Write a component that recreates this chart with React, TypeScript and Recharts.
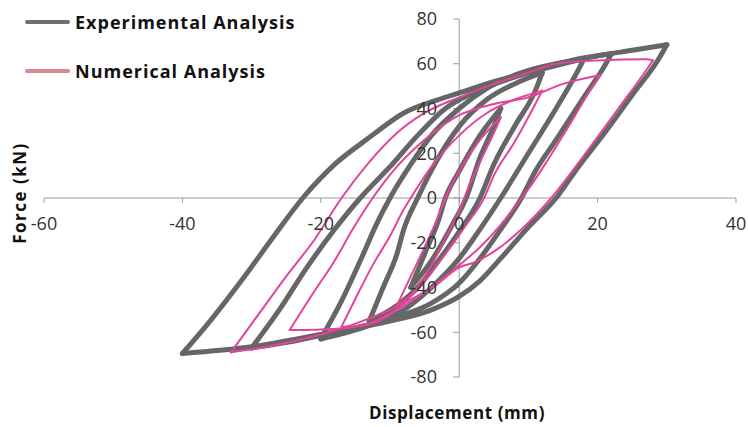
import React from 'react';
import { LineChart, Line, XAxis, YAxis, ReferenceLine, Legend } from 'recharts';

// Hysteresis loops, force (kN) against displacement (mm), one array per cycle.
// Each cycle runs from its negative tip up to its positive tip and back down.
type Pt = [number, number];

const expCycle1: Pt[] = [
  [-7, -40], [-5, -25], [-3, -10], [-2, 0], [0, 12], [3, 28], [6, 40],
  [5, 32], [3, 18], [1, 0], [-1, -12], [-4, -28], [-7, -40],
];
const expCycle2: Pt[] = [
  [-13, -55], [-11, -40], [-9, -25], [-8, -14], [-6, 0], [-3, 18], [0, 32], [4, 44], [8, 51], [12, 56],
  [11, 48], [8, 32], [5, 15], [3, 0], [0, -15], [-3, -28], [-6, -40], [-9, -48], [-13, -55],
];
const expCycle3: Pt[] = [
  [-20, -63], [-17, -46], [-14, -26], [-12, -12], [-10, 0], [-7, 15], [-4, 28], [0, 40], [4, 49], [9, 56], [14, 60], [18, 62],
  [17, 56], [14, 40], [10, 20], [6, 0], [3, -14], [0, -27], [-4, -40], [-8, -50], [-13, -57], [-20, -63],
];
const expCycle4: Pt[] = [
  [-30, -67], [-26, -50], [-22, -31], [-18, -14], [-14.3, 0], [-10, 14], [-6, 28], [-2, 40], [2, 47], [7, 53], [12, 58], [17, 62], [22, 64.5],
  [21, 59], [18, 45], [14, 26], [11, 12], [9, 0], [6, -14], [3, -27], [0, -38], [-4, -47], [-10, -54], [-18, -60], [-24, -64], [-30, -67],
];
const expCycle5: Pt[] = [
  [-40, -69.5], [-36, -55], [-31, -35], [-27, -18], [-22.6, 0], [-18, 15], [-13, 27], [-8, 38], [-3, 44], [0, 47], [5, 52], [10, 56], [15, 60], [20, 63.5], [25, 66], [30, 68.5],
  [29, 63], [25, 46], [21, 29], [17, 13], [14, 0], [10, -13], [6, -27], [3, -37], [0, -44], [-4, -50], [-10, -55], [-20, -61], [-30, -66.5], [-40, -69.5],
];

const numCycle1: Pt[] = [
  [-9, -48], [-7, -35], [-5, -22], [-3, -8], [-2, 0], [0, 12], [3, 26], [6, 36],
  [5, 29], [3, 16], [1, 2], [0, -6], [-2, -18], [-4, -30], [-6, -40], [-9, -48],
];
const numCycle2: Pt[] = [
  [-17, -57.5], [-15, -45], [-12.5, -30], [-10, -17], [-8, -5], [-7, 0], [-4, 14], [0, 28], [4, 38], [8, 44], [12, 48],
  [11, 42], [8, 25], [5, 10], [3.6, 0], [1, -12], [-2, -25], [-5, -37], [-8, -47], [-11, -54], [-14, -57], [-17, -57.5],
];
const numCycle3: Pt[] = [
  [-24.5, -59], [-21, -42], [-18, -28], [-15.4, -14], [-12.5, 0], [-9, 14], [-5, 26], [0, 37], [5, 42], [10, 45], [15, 51], [20.4, 55],
  [19.5, 51], [16, 33], [13, 18], [10, 4], [9, 0], [6, -12], [3, -22], [0, -30], [-4, -40], [-9, -50], [-13, -56], [-18, -58.5], [-24.5, -59],
];
const numCycle4: Pt[] = [
  [-33, -69], [-29, -52], [-25, -35], [-21, -19], [-17, 0], [-13, 16], [-9, 29], [-5, 38], [0, 45], [5, 51], [10, 56], [14, 60], [20, 61.5], [27, 62], [28, 61.5],
  [27, 57], [23, 40], [18.5, 21], [13.3, 0], [9, -14], [5, -24], [2, -29], [0, -31], [-3, -38], [-8, -47], [-14, -55], [-20, -61], [-27, -66], [-33, -69],
];

const expCycles = [expCycle1, expCycle2, expCycle3, expCycle4, expCycle5];
const numCycles = [numCycle1, numCycle2, numCycle3, numCycle4];

const xTicks = [-60, -40, -20, 0, 20, 40];
const yTicks = [80, 60, 40, 20, 0, -20, -40, -60, -80];

const legendItems = [
  { label: 'Experimental Analysis', color: '#707070' },
  { label: 'Numerical Analysis', color: '#d98a91' },
];

const FONT = '"Open Sans", sans-serif';
const AXIS_COLOR = '#9c9c9c';
const EXP_COLOR = '#666666';
const NUM_COLOR = '#e2449b';

// split a cycle at its positive tip into the loading and unloading branch,
// both ordered by increasing displacement so a monotone curve can be used
const branches = (pts: Pt[]) => {
  let tip = 0;
  pts.forEach(([x], i) => {
    if (x > pts[tip][0]) tip = i;
  });
  const rows = pts.map(([x, y]) => ({ x, y }));
  return [rows.slice(0, tip + 1), rows.slice(tip).reverse()];
};

const renderLegend = () => (
  <div style={{ fontFamily: FONT, fontWeight: 700, fontSize: 18, letterSpacing: 1, color: '#111' }}>
    {legendItems.map((item) => (
      <div key={item.label} style={{ display: 'flex', alignItems: 'center', height: 28, marginBottom: 21 }}>
        <span style={{ width: 45, height: 4, borderRadius: 2, background: item.color, marginRight: 5 }} />
        <span>{item.label}</span>
      </div>
    ))}
  </div>
);

const loopLines = (cycles: Pt[][], name: string, color: string, width: number) =>
  cycles.flatMap((c, i) =>
    branches(c).map((rows, j) => (
      <Line
        key={`${name}${i}-${j}`}
        data={rows}
        dataKey="y"
        type="monotoneX"
        stroke={color}
        strokeWidth={width}
        strokeLinejoin="round"
        strokeLinecap="round"
        dot={false}
        activeDot={false}
        isAnimationActive={false}
        legendType="none"
      />
    ))
  );

export default function App() {
  const tickLabel = { fill: '#333', fontSize: 18, fontFamily: FONT };
  return (
    <div>
      <style>{'body { margin: 0; }'}</style>
      <LineChart width={748} height={427} margin={{ top: 19, right: 12, bottom: 50, left: 44 }}>
        <XAxis type="number" dataKey="x" domain={[-60, 40]} hide allowDataOverflow />
        <YAxis type="number" dataKey="y" domain={[-80, 80]} hide allowDataOverflow />

        {/* axes crossing at the origin */}
        <ReferenceLine y={0} stroke={AXIS_COLOR} strokeWidth={1} />
        <ReferenceLine x={0} stroke={AXIS_COLOR} strokeWidth={1} />
        {xTicks.map((v) => (
          <ReferenceLine
            key={`xt${v}`}
            segment={[{ x: v, y: 0 }, { x: v, y: -2.2 }]}
            stroke={AXIS_COLOR}
            label={{ value: String(v), position: 'bottom', offset: 14, ...tickLabel }}
          />
        ))}
        {yTicks.map((v) => (
          <ReferenceLine
            key={`yt${v}`}
            segment={[{ x: -0.9, y: v }, { x: 0, y: v }]}
            stroke={AXIS_COLOR}
            label={{ value: String(v), position: 'left', offset: 16, ...tickLabel }}
          />
        ))}

        {loopLines(expCycles, 'exp', EXP_COLOR, 5)}
        {loopLines(numCycles, 'num', NUM_COLOR, 2)}

        <Legend
          layout="vertical"
          align="center"
          verticalAlign="middle"
          content={renderLegend}
          wrapperStyle={{ top: 8, left: 25, width: 340 }}
        />

        <text x={19} y={193} transform="rotate(-90 19 193)" textAnchor="middle" dominantBaseline="central"
          fontFamily={FONT} fontWeight={700} fontSize={17} letterSpacing={1.5} fill="#111">
          Force (kN)
        </text>
        <text x={457} y={412} textAnchor="middle" dominantBaseline="central"
          fontFamily={FONT} fontWeight={700} fontSize={17} letterSpacing={0.6} fill="#111">
          Displacement (mm)
        </text>
      </LineChart>
    </div>
  );
}
